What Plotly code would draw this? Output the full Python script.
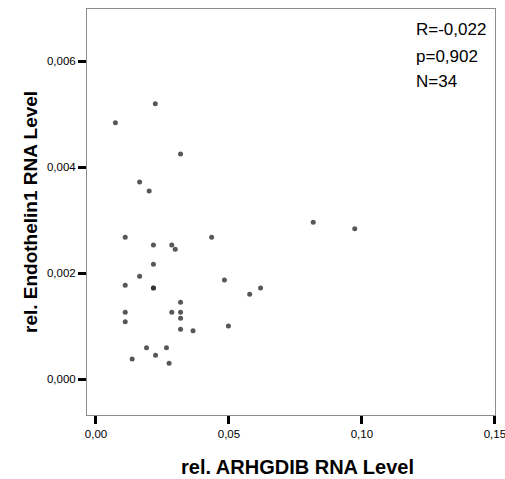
import plotly.graph_objects as go

# rel. ARHGDIB RNA Level (x) and rel. Endothelin1 RNA Level (y)
arhgdib = [0.0223, 0.0073, 0.0318, 0.0164, 0.0200,
           0.0110, 0.0435, 0.0216, 0.0285, 0.0298, 0.0216, 0.0164, 0.0110,
           0.0483, 0.0216, 0.0216, 0.0619, 0.0578, 0.0318, 0.0110, 0.0285,
           0.0318, 0.0110, 0.0318, 0.0318, 0.0365, 0.0498, 0.0190, 0.0265,
           0.0224, 0.0136, 0.0275, 0.0817, 0.0973]
endothelin1 = [0.00520, 0.00484, 0.00425, 0.00372, 0.00355,
               0.00268, 0.00268, 0.00253, 0.00253, 0.00245, 0.00217, 0.00194, 0.00177,
               0.00187, 0.00172, 0.00172, 0.00172, 0.00160, 0.00145, 0.00126, 0.00126,
               0.00126, 0.00108, 0.00115, 0.00094, 0.00091, 0.00100, 0.00059, 0.00059,
               0.00045, 0.00038, 0.00030, 0.00296, 0.00284]

stats_lines = ["R=-0,022", "p=0,902", "N=34"]
x_ticks = [0.0, 0.05, 0.10, 0.15]
x_ticktext = ["0,00", "0,05", "0,10", "0,15"]
y_ticks = [0.0, 0.002, 0.004, 0.006]
y_ticktext = ["0,000", "0,002", "0,004", "0,006"]

FONT = "Arial, Liberation Sans, sans-serif"

fig = go.Figure()
fig.add_trace(go.Scatter(
    x=arhgdib, y=endothelin1, mode="markers",
    marker=dict(size=5, color="rgba(45,45,45,0.8)", line=dict(width=0)),
    hoverinfo="skip", showlegend=False,
))

axis_common = dict(
    showgrid=False, zeroline=False, showline=True, linecolor="#8c8c8c",
    linewidth=1, mirror=True, ticks="outside", ticklen=8, tickwidth=3,
    tickcolor="black", tickfont=dict(family=FONT, size=11.5, color="black"),
    ticklabeloverflow="allow", automargin=False,
)

fig.update_xaxes(range=[-0.00338, 0.15005], tickvals=x_ticks,
                 ticktext=x_ticktext, **axis_common)
fig.update_yaxes(range=[-0.00068, 0.00699], tickvals=y_ticks,
                 ticktext=y_ticktext, **axis_common)

annotations = []
for i, t in enumerate(stats_lines):
    annotations.append(dict(
        text=t, xref="paper", yref="paper", x=(414 - 87) / 408, y=(415 - [30, 57, 82][i]) / 406,
        xanchor="left", yanchor="middle", showarrow=False,
        font=dict(family=FONT, size=17, color="black"),
    ))
annotations.append(dict(
    text="<b>rel. ARHGDIB RNA Level</b>", xref="paper", yref="paper",
    x=(297 - 87) / 408, y=(415 - 467) / 406, xanchor="center", yanchor="middle",
    showarrow=False, font=dict(family=FONT, size=20, color="black"),
))
annotations.append(dict(
    text="<b>rel. Endothelin1 RNA Level</b>", xref="paper", yref="paper",
    x=(30 - 87) / 408, y=(415 - 212) / 406, xanchor="center", yanchor="middle",
    textangle=-90, showarrow=False, font=dict(family=FONT, size=19, color="black"),
))

fig.update_layout(
    width=505, height=479,
    margin=dict(l=87, r=10, t=9, b=64, autoexpand=False),
    paper_bgcolor="white", plot_bgcolor="white",
    annotations=annotations,
)

fig.write_html("out.html")
